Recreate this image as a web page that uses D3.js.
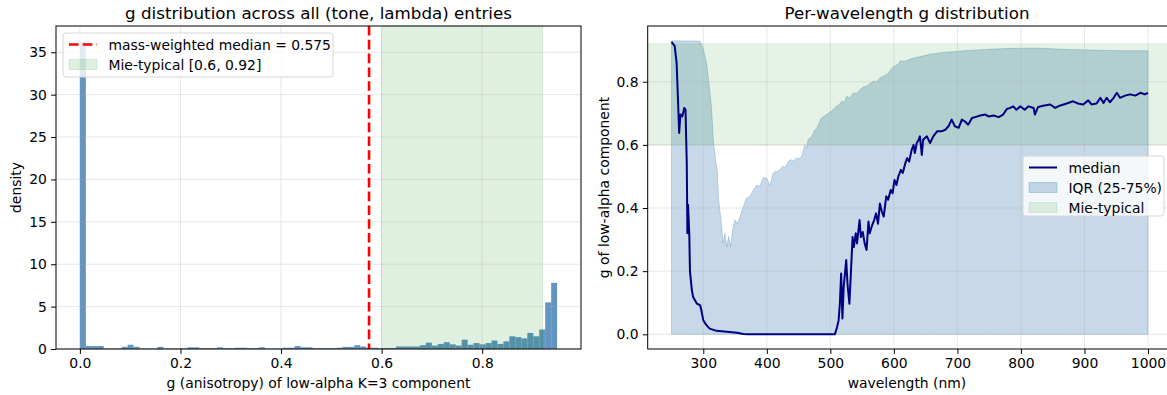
<!DOCTYPE html>
<html>
<head>
<meta charset="utf-8">
<script src="https://cdn.jsdelivr.net/npm/d3@7"></script>
<style>
  body { margin: 0; background: #fff; }
  text { font-family: "DejaVu Sans", sans-serif; fill: #000; }
</style>
</head>
<body>
<svg id="chart" width="1167" height="395"></svg>
<script>
// ---- left panel: histogram of g (80 equal bins from 0 to 0.949) ----
const histRange = [0, 0.949];
const histDensity = [
  36.2, 0.35, 0.35, 0.35, 0.05, 0.05, 0.05, 0.25, 0.5, 0.25,
  0.05, 0.05, 0.05, 0.25, 0.05, 0.05, 0.05, 0.05, 0.2, 0.2,
  0.1, 0.1, 0.1, 0.2, 0.1, 0.1, 0.15, 0.15, 0.1, 0.1,
  0.2, 0.05, 0.05, 0.05, 0.15, 0.15, 0.35, 0.2, 0.2, 0.1,
  0.1, 0.1, 0.1, 0.15, 0.25, 0.25, 0.45, 0.3, 0.15, 0.15,
  0.1, 0.1, 0.1, 0.3, 0.3, 0.3, 0.3, 0.45, 0.75, 0.4,
  0.6, 0.8, 0.55, 0.4, 1.1, 0.5, 0.7, 0.55, 0.7, 1.0,
  0.6, 0.9, 1.5, 1.4, 1.25, 1.9, 1.5, 2.3, 5.5, 7.8
];
const weightedMedian = 0.575;
const mieRange = [0.6, 0.92];
const leftXTicks = [0, 0.2, 0.4, 0.6, 0.8];
const leftYTicks = [0, 5, 10, 15, 20, 25, 30, 35];

// ---- right panel: per-wavelength median and 75th percentile ----
const medianWl = [250, 255, 258, 260, 262, 264, 267, 270, 272, 274, 275, 276, 278, 279, 282, 284, 290, 295, 297, 300,
  305, 310, 321, 337, 353, 363, 370, 507, 510, 513, 515, 517, 519, 521, 525, 527, 530, 532, 535, 537,
  540, 542, 546, 548, 551, 554, 557, 560, 562, 566, 569, 572, 575, 578, 581, 584, 588, 591, 595, 598,
  601, 604, 607, 609, 611, 614, 618, 621, 624, 628, 631, 633, 636, 639, 641, 644, 646, 652, 657, 662,
  668, 675, 681, 686, 691, 696, 702, 707, 712, 717, 723, 728, 736, 744, 749, 757, 765, 772, 778, 783,
  788, 793, 799, 806, 812, 820, 822, 827, 835, 846, 854, 861, 872, 882, 890, 898, 906, 911, 919, 925,
  930, 935, 940, 946, 951, 956, 964, 972, 980, 988, 995, 1000];
const medianG = [0.926, 0.913, 0.86, 0.754, 0.638, 0.696, 0.69, 0.717, 0.712, 0.542, 0.32, 0.41, 0.315, 0.2, 0.14, 0.118, 0.097, 0.092, 0.076, 0.044,
  0.029, 0.018, 0.011, 0.008, 0.005, 0.001, 0, 0, 0.018, 0.044, 0.097, 0.193, 0.05, 0.15, 0.235, 0.16, 0.097, 0.181, 0.308, 0.276,
  0.32, 0.288, 0.362, 0.308, 0.324, 0.288, 0.267, 0.357, 0.32, 0.347, 0.362, 0.383, 0.35, 0.414, 0.389, 0.373, 0.437, 0.426, 0.457, 0.447,
  0.489, 0.473, 0.5, 0.51, 0.521, 0.511, 0.542, 0.558, 0.547, 0.584, 0.6, 0.574, 0.606, 0.616, 0.627, 0.568, 0.616, 0.627, 0.606, 0.627,
  0.643, 0.643, 0.648, 0.659, 0.68, 0.659, 0.654, 0.68, 0.674, 0.664, 0.685, 0.688, 0.693, 0.696, 0.69, 0.693, 0.688, 0.696, 0.714, 0.717,
  0.722, 0.711, 0.722, 0.711, 0.722, 0.717, 0.696, 0.72, 0.724, 0.728, 0.717, 0.724, 0.731, 0.738, 0.731, 0.728, 0.741, 0.728, 0.731, 0.749,
  0.733, 0.749, 0.735, 0.749, 0.765, 0.749, 0.756, 0.76, 0.756, 0.765, 0.76, 0.765];
const q75Wl = [250, 256, 270, 285, 295, 300, 305, 310, 313, 316, 318, 320, 322, 324, 326, 329, 331, 334, 337, 340,
  343, 346, 350, 354, 358, 363, 368, 373, 379, 384, 389, 394, 400, 405, 410, 413, 416, 421, 425, 429, 433, 437,
  442, 447, 451, 455, 460, 463, 465, 471, 475, 479, 483, 486, 490, 494, 502, 506, 510, 514, 518, 522, 526, 531, 536, 541, 547, 552, 557, 563, 568, 573, 578, 584, 589, 594, 599, 607,
  610, 618, 625, 633, 641, 649, 657, 665, 673, 688, 704, 725, 751, 778, 804, 830, 877, 956, 1000];
const q75G = [0.929, 0.93, 0.929, 0.929, 0.928, 0.903, 0.86, 0.776, 0.717, 0.606, 0.58, 0.54, 0.52, 0.426, 0.395, 0.341, 0.288, 0.32, 0.277, 0.31,
  0.277, 0.33, 0.362, 0.35, 0.373, 0.405, 0.431, 0.436, 0.457, 0.473, 0.468, 0.495, 0.495, 0.47, 0.51, 0.516, 0.516, 0.521, 0.532, 0.527, 0.545, 0.553,
  0.55, 0.558, 0.556, 0.564, 0.6, 0.59, 0.616, 0.627, 0.645, 0.654, 0.672, 0.685, 0.69, 0.696, 0.707, 0.715, 0.722, 0.728, 0.738, 0.735, 0.754, 0.748, 0.764, 0.762, 0.775, 0.783, 0.786, 0.795, 0.802, 0.8, 0.812, 0.818, 0.823, 0.835, 0.847, 0.855,
  0.866, 0.865, 0.871, 0.876, 0.879, 0.883, 0.887, 0.889, 0.892, 0.894, 0.897, 0.9, 0.903, 0.905, 0.906, 0.906, 0.902, 0.898, 0.898];
const q25G = 0; // lower edge of the IQR band sits at 0 everywhere
const rightXTicks = [300, 400, 500, 600, 700, 800, 900, 1000];
const rightYTicks = [0, 0.2, 0.4, 0.6, 0.8];

const svg = d3.select('#chart');
svg.append('rect').attr('width', 1167).attr('height', 395).attr('fill', '#fff');

const plotTop = 26, plotBottom = 349;
const gridColor = 'rgba(176,176,176,0.3)';
const fontSize = '13.9px', titleSize = '16.7px';

function drawFrame(g, x, y, xTicks, yTicks, fmtX, fmtY, box) {
  g.append('g')
    .attr('transform', `translate(0,${plotBottom})`)
    .call(d3.axisBottom(x).tickValues(xTicks).tickFormat(fmtX).tickSize(4.9).tickPadding(4.2))
    .call(a => a.select('.domain').remove());
  g.append('g')
    .attr('transform', `translate(${box[0]},0)`)
    .call(d3.axisLeft(y).tickValues(yTicks).tickFormat(fmtY).tickSize(4.9).tickPadding(4.2))
    .call(a => a.select('.domain').remove());
  g.selectAll('.tick text').style('font-size', fontSize).style('font-family', '"DejaVu Sans", sans-serif').attr('fill', '#000');
  g.selectAll('.tick line').attr('stroke', '#000').attr('stroke-width', 1);
  g.append('rect')
    .attr('x', box[0]).attr('y', plotTop)
    .attr('width', box[1] - box[0]).attr('height', plotBottom - plotTop)
    .attr('fill', 'none').attr('stroke', '#000').attr('stroke-width', 1);
}

function drawGrid(g, x, y, xTicks, yTicks, box) {
  g.append('g').selectAll('line.gx').data(xTicks).enter().append('line')
    .attr('x1', d => x(d)).attr('x2', d => x(d)).attr('y1', plotTop).attr('y2', plotBottom)
    .attr('stroke', gridColor).attr('stroke-width', 1);
  g.append('g').selectAll('line.gy').data(yTicks).enter().append('line')
    .attr('x1', box[0]).attr('x2', box[1]).attr('y1', d => y(d)).attr('y2', d => y(d))
    .attr('stroke', gridColor).attr('stroke-width', 1);
}

function drawLegend(g, x0, y0, w, h, items) {
  g.append('rect').attr('x', x0).attr('y', y0).attr('width', w).attr('height', h)
    .attr('rx', 3).attr('fill', 'rgba(255,255,255,0.8)').attr('stroke', '#d6d6d6').attr('stroke-width', 1);
  items.forEach((it, i) => {
    const cy = y0 + 11.5 + i * 20;
    if (it.type === 'line') {
      g.append('line').attr('x1', x0 + 6).attr('x2', x0 + 34).attr('y1', cy).attr('y2', cy)
        .attr('stroke', it.color).attr('stroke-width', it.width).attr('stroke-dasharray', it.dash || null);
    } else {
      g.append('rect').attr('x', x0 + 6).attr('y', cy - 5).attr('width', 28).attr('height', 10)
        .attr('fill', it.color).attr('fill-opacity', it.opacity)
        .attr('stroke', it.color).attr('stroke-opacity', it.opacity);
    }
    g.append('text').attr('x', x0 + 45.5).attr('y', cy).attr('dy', '0.36em')
      .style('font-size', fontSize).text(it.label);
  });
}

// ================= left panel =================
const boxL = [56, 581];
const xL = d3.scaleLinear().domain([-0.0475, 0.9965]).range(boxL);
const yL = d3.scaleLinear().domain([0, 38.1]).range([plotBottom, plotTop]);
const gL = svg.append('g');
const binW = (histRange[1] - histRange[0]) / histDensity.length;

gL.selectAll('rect.bar').data(histDensity).enter().append('rect')
  .attr('class', 'bar')
  .attr('x', (d, i) => xL(histRange[0] + i * binW))
  .attr('width', (d, i) => xL(histRange[0] + (i + 1) * binW) - xL(histRange[0] + i * binW))
  .attr('y', d => yL(d))
  .attr('height', d => yL(0) - yL(d))
  .attr('fill', 'steelblue').attr('fill-opacity', 0.85);

gL.append('rect')
  .attr('x', xL(mieRange[0])).attr('width', xL(mieRange[1]) - xL(mieRange[0]))
  .attr('y', plotTop).attr('height', plotBottom - plotTop)
  .attr('fill', 'green').attr('fill-opacity', 0.12)
  .attr('stroke', 'green').attr('stroke-opacity', 0.12);

drawGrid(gL, xL, yL, leftXTicks, leftYTicks, boxL);

gL.append('line')
  .attr('x1', xL(weightedMedian)).attr('x2', xL(weightedMedian))
  .attr('y1', plotTop).attr('y2', plotBottom)
  .attr('stroke', 'red').attr('stroke-width', 2.6).attr('stroke-dasharray', '9.6,4.2');

drawFrame(gL, xL, yL, leftXTicks, leftYTicks, d3.format('.1f'), d3.format('d'), boxL);

drawLegend(gL, 63, 33, 270, 44, [
  { type: 'line', color: 'red', width: 2.6, dash: '9.6,4.2', label: `mass-weighted median = ${weightedMedian}` },
  { type: 'patch', color: 'green', opacity: 0.12, label: `Mie-typical [${mieRange[0]}, ${mieRange[1]}]` }
]);

gL.append('text').attr('x', (boxL[0] + boxL[1]) / 2).attr('y', 19).attr('text-anchor', 'middle')
  .style('font-size', titleSize).text('g distribution across all (tone, lambda) entries');
gL.append('text').attr('x', (boxL[0] + boxL[1]) / 2).attr('y', 388).attr('text-anchor', 'middle')
  .style('font-size', fontSize).text('g (anisotropy) of low-alpha K=3 component');
gL.append('text').attr('transform', `translate(21,${(plotTop + plotBottom) / 2}) rotate(-90)`).attr('text-anchor', 'middle')
  .style('font-size', fontSize).text('density');

// ================= right panel =================
const boxR = [647.7, 1171.8];
const xR = d3.scaleLinear().domain([212.5, 1037.5]).range(boxR);
const yR = d3.scaleLinear().domain([-0.0465, 0.9765]).range([plotBottom, plotTop]);
const gR = svg.append('g');

const iqrArea = d3.area()
  .x((d, i) => xR(q75Wl[i]))
  .y0(() => yR(q25G))
  .y1(d => yR(d));
gR.append('path').datum(q75G)
  .attr('d', iqrArea)
  .attr('fill', 'steelblue').attr('fill-opacity', 0.3)
  .attr('stroke', 'steelblue').attr('stroke-opacity', 0.3).attr('stroke-width', 1);

gR.append('rect')
  .attr('x', boxR[0]).attr('width', boxR[1] - boxR[0])
  .attr('y', yR(mieRange[1])).attr('height', yR(mieRange[0]) - yR(mieRange[1]))
  .attr('fill', 'green').attr('fill-opacity', 0.1)
  .attr('stroke', 'green').attr('stroke-opacity', 0.1);

drawGrid(gR, xR, yR, rightXTicks, rightYTicks, boxR);

const medLine = d3.line().x((d, i) => xR(medianWl[i])).y(d => yR(d));
gR.append('path').datum(medianG)
  .attr('d', medLine)
  .attr('fill', 'none').attr('stroke', 'navy').attr('stroke-width', 2).attr('stroke-linejoin', 'round');

drawFrame(gR, xR, yR, rightXTicks, rightYTicks, d3.format('d'), d3.format('.1f'), boxR);

drawLegend(gR, 1023, 156, 141, 60, [
  { type: 'line', color: 'navy', width: 2, label: 'median' },
  { type: 'patch', color: 'steelblue', opacity: 0.3, label: 'IQR (25-75%)' },
  { type: 'patch', color: 'green', opacity: 0.1, label: 'Mie-typical' }
]);

gR.append('text').attr('x', 907).attr('y', 19).attr('text-anchor', 'middle')
  .style('font-size', titleSize).text('Per-wavelength g distribution');
gR.append('text').attr('x', 907).attr('y', 388).attr('text-anchor', 'middle')
  .style('font-size', fontSize).text('wavelength (nm)');
gR.append('text').attr('transform', `translate(609,${(plotTop + plotBottom) / 2}) rotate(-90)`).attr('text-anchor', 'middle')
  .style('font-size', fontSize).text('g of low-alpha component');
</script>
</body>
</html>
